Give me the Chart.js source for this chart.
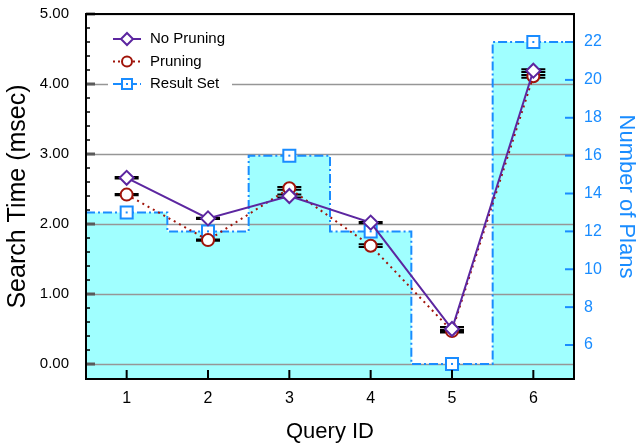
<!DOCTYPE html>
<html>
<head>
<meta charset="utf-8">
<script src="https://cdn.jsdelivr.net/npm/chart.js@4/dist/chart.umd.min.js"></script>
<style>
  html, body { margin: 0; padding: 0; background: #fff; }
  #wrap { width: 639px; height: 445px; }
</style>
</head>
<body>
<div id="wrap"><canvas id="chart" width="639" height="445"></canvas></div>
<script>
// Données
const queries = [1, 2, 3, 4, 5, 6];
const noPruning = [2.66, 2.08, 2.40, 2.02, 0.50, 4.19];
const pruning = [2.42, 1.77, 2.51, 1.69, 0.47, 4.11];
const noPruningErr = [0.01, 0.01, 0.02, 0.01, 0.03, 0.02];
const pruningErr = [0.01, 0.01, 0.02, 0.02, 0.02, 0.02];
const resultSet = [13, 12, 16, 12, 5, 22];
const leftTicks = [0, 1, 2, 3, 4, 5];
const rightTicks = [6, 8, 10, 12, 14, 16, 18, 20, 22];

const PURPLE = 'rgb(92, 38, 160)';
const RED = 'rgb(160, 20, 10)';
const BLUE = 'rgb(25, 140, 255)';
const CYAN = 'rgb(160, 255, 255)';
const FONT = '"Liberation Sans", Arial, Helvetica, sans-serif';

// Contour en escalier du "Result Set" : une marche par requête
const resultSteps = [];
queries.forEach((q, i) => {
    resultSteps.push({ x: q - 0.5, y: resultSet[i] });
    resultSteps.push({ x: q + 0.5, y: resultSet[i] });
});

const toXY = (arr) => arr.map((v, i) => ({ x: queries[i], y: v }));

// Grille, barres d'erreur, graduations, cadre et légende
const decorPlugin = {
    id: 'decor',
    beforeDatasetsDraw(chart) {
        const { ctx, chartArea: a, scales } = chart;
        const y = scales.y;
        ctx.save();
        ctx.strokeStyle = 'rgb(150,150,150)';
        ctx.lineWidth = 1.5;
        leftTicks.forEach(v => {
            const py = Math.round(y.getPixelForValue(v)) + 0.5;
            ctx.beginPath();
            ctx.moveTo(a.left, py);
            ctx.lineTo(a.right, py);
            ctx.stroke();
        });
        // zone blanche derrière la légende
        ctx.fillStyle = '#fff';
        ctx.fillRect(a.left + 22, a.top + 10, 124, 82);

        // barres d'erreur
        ctx.strokeStyle = '#000';
        ctx.lineWidth = 2;
        [[noPruning, noPruningErr], [pruning, pruningErr]].forEach(([vals, errs]) => {
            vals.forEach((v, i) => {
                const px = scales.x.getPixelForValue(queries[i]);
                const y1 = y.getPixelForValue(v + errs[i]);
                const y2 = y.getPixelForValue(v - errs[i]);
                ctx.beginPath();
                ctx.moveTo(px - 12, y1); ctx.lineTo(px + 12, y1);
                ctx.moveTo(px - 12, y2); ctx.lineTo(px + 12, y2);
                ctx.moveTo(px, y1); ctx.lineTo(px, y2);
                ctx.stroke();
            });
        });
        ctx.restore();
    },
    afterDatasetsDraw(chart) {
        const { ctx, chartArea: a, scales } = chart;
        ctx.save();
        // point au centre des carrés
        const meta = chart.getDatasetMeta(3);
        ctx.fillStyle = BLUE;
        meta.data.forEach(p => ctx.fillRect(p.x - 1, p.y - 1, 2, 2));

        // petites graduations gauche
        ctx.strokeStyle = '#000';
        ctx.lineWidth = 1.5;
        for (let v = 0; v <= 5.001; v += 0.2) {
            const py = scales.y.getPixelForValue(v);
            ctx.beginPath();
            ctx.moveTo(a.left, py);
            ctx.lineTo(a.left + 4, py);
            ctx.stroke();
        }
        ctx.lineWidth = 3;
        ctx.strokeStyle = 'rgb(90,90,90)';
        leftTicks.forEach(v => {
            const py = scales.y.getPixelForValue(v);
            ctx.beginPath();
            ctx.moveTo(a.left, py);
            ctx.lineTo(a.left + 9, py);
            ctx.stroke();
        });
        // graduations droite
        ctx.strokeStyle = BLUE;
        ctx.lineWidth = 2;
        rightTicks.forEach(v => {
            const py = scales.y2.getPixelForValue(v);
            ctx.beginPath();
            ctx.moveTo(a.right, py);
            ctx.lineTo(a.right - 9, py);
            ctx.stroke();
        });
        // graduations x
        ctx.strokeStyle = '#000';
        queries.forEach(q => {
            const px = scales.x.getPixelForValue(q);
            ctx.beginPath();
            ctx.moveTo(px, a.bottom);
            ctx.lineTo(px, a.bottom - 9);
            ctx.stroke();
        });
        // cadre
        ctx.lineWidth = 2;
        ctx.strokeRect(a.left, a.top, a.right - a.left, a.bottom - a.top);

        // légende
        const items = [
            { label: 'No Pruning', color: PURPLE, dash: [], marker: 'diamond' },
            { label: 'Pruning', color: RED, dash: [2, 3], marker: 'circle' },
            { label: 'Result Set', color: BLUE, dash: [8, 3, 2, 3], marker: 'square' }
        ];
        ctx.font = '15px ' + FONT;
        ctx.textBaseline = 'middle';
        items.forEach((it, i) => {
            const ly = a.top + 25 + i * 22.5;
            const lx = a.left + 27;
            ctx.strokeStyle = it.color;
            ctx.lineWidth = 2;
            ctx.setLineDash(it.dash);
            ctx.beginPath();
            ctx.moveTo(lx, ly);
            ctx.lineTo(lx + 28, ly);
            ctx.stroke();
            ctx.setLineDash([]);
            const cx = lx + 14;
            ctx.fillStyle = '#fff';
            ctx.beginPath();
            if (it.marker === 'diamond') {
                ctx.moveTo(cx, ly - 6); ctx.lineTo(cx + 6, ly);
                ctx.lineTo(cx, ly + 6); ctx.lineTo(cx - 6, ly); ctx.closePath();
            } else if (it.marker === 'circle') {
                ctx.arc(cx, ly, 5, 0, Math.PI * 2);
            } else {
                ctx.rect(cx - 5, ly - 5, 10, 10);
            }
            ctx.fill();
            ctx.stroke();
            if (it.marker === 'square') {
                ctx.fillStyle = BLUE;
                ctx.fillRect(cx - 1, ly - 1, 2, 2);
            }
            ctx.fillStyle = '#000';
            ctx.fillText(it.label, lx + 37, ly);
        });
        ctx.restore();
    }
};

// Pas de marge automatique autour des axes verticaux
const fitVertical = (width) => (s) => {
    s.width = width;
    s.paddingTop = 0;
    s.paddingBottom = 0;
};

new Chart(document.getElementById('chart'), {
    type: 'line',
    data: {
        datasets: [
            {
                label: 'No Pruning',
                data: toXY(noPruning),
                yAxisID: 'y',
                borderColor: PURPLE,
                borderWidth: 2,
                pointStyle: 'rectRot',
                pointRadius: 7,
                pointBorderWidth: 2,
                pointBackgroundColor: '#fff',
                pointBorderColor: PURPLE,
                order: 1
            },
            {
                label: 'Pruning',
                data: toXY(pruning),
                yAxisID: 'y',
                borderColor: RED,
                borderWidth: 2,
                borderDash: [2, 4],
                pointStyle: 'circle',
                pointRadius: 6,
                pointBorderWidth: 2,
                pointBackgroundColor: '#fff',
                pointBorderColor: RED,
                order: 2
            },
            {
                label: 'Result Set steps',
                data: resultSteps,
                yAxisID: 'y2',
                borderColor: BLUE,
                borderWidth: 2,
                borderDash: [9, 3, 2, 3],
                backgroundColor: CYAN,
                fill: 'start',
                pointRadius: 0,
                tension: 0,
                order: 4
            },
            {
                label: 'Result Set',
                data: toXY(resultSet),
                yAxisID: 'y2',
                showLine: false,
                pointStyle: 'rect',
                pointRadius: 8.5,
                pointBorderWidth: 2,
                pointBackgroundColor: '#fff',
                pointBorderColor: BLUE,
                order: 3
            }
        ]
    },
    options: {
        responsive: false,
        animation: false,
        layout: { padding: { top: 14, left: 0, right: 0, bottom: 0 } },
        plugins: {
            legend: { display: false },
            tooltip: { enabled: false },
            filler: { drawTime: 'beforeDatasetsDraw' }
        },
        scales: {
            x: {
                type: 'linear',
                min: 0.5,
                max: 6.5,
                grid: { display: false },
                border: { display: false },
                afterBuildTicks: (s) => { s.ticks = queries.map(v => ({ value: v })); },
                afterFit: (s) => { s.height = 66; s.paddingLeft = 0; s.paddingRight = 0; },
                ticks: { color: '#000', font: { family: FONT, size: 16 }, padding: 2 },
                title: { display: true, text: 'Query ID', color: '#000', font: { family: FONT, size: 22 }, padding: { top: 0, bottom: 0 } }
            },
            y: {
                position: 'left',
                min: -0.214,
                max: 5.0,
                grid: { display: false },
                border: { display: false },
                afterBuildTicks: (s) => { s.ticks = leftTicks.map(v => ({ value: v })); },
                afterFit: fitVertical(86),
                ticks: { color: '#000', font: { family: FONT, size: 15 }, padding: 9, callback: (v) => Number(v).toFixed(2) },
                title: { display: true, text: 'Search Time (msec)', color: '#000', font: { family: FONT, size: 25 }, padding: { top: 3, bottom: 0 } }
            },
            y2: {
                position: 'right',
                min: 4.205,
                max: 23.48,
                grid: { display: false },
                border: { display: false },
                afterBuildTicks: (s) => { s.ticks = rightTicks.map(v => ({ value: v })); },
                afterFit: fitVertical(65),
                ticks: { color: BLUE, font: { family: FONT, size: 16 }, padding: 2 },
                title: { display: true, text: 'Number of Plans', color: BLUE, font: { family: FONT, size: 22 }, padding: { top: 0, bottom: 0 } }
            }
        }
    },
    plugins: [decorPlugin]
});
</script>
</body>
</html>
